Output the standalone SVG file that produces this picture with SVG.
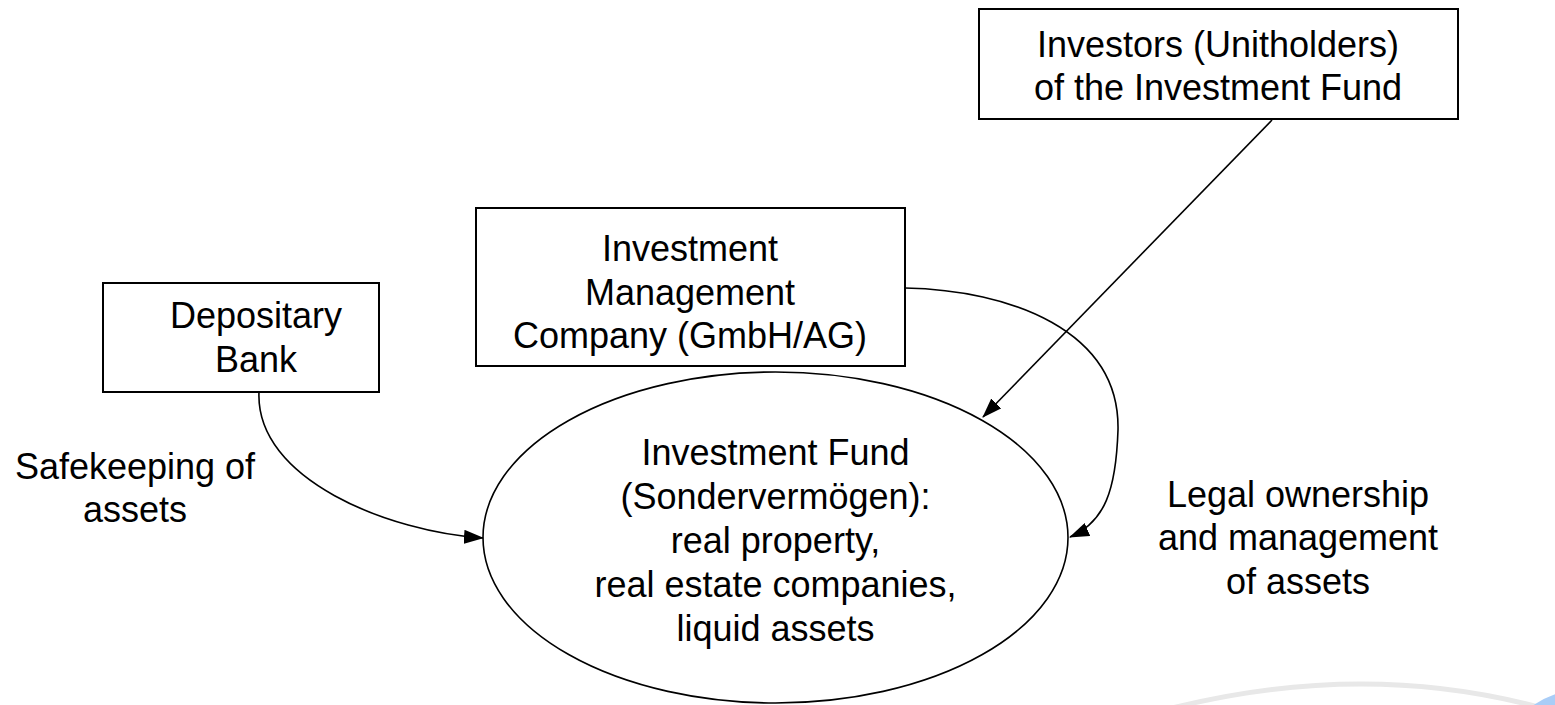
<svg xmlns="http://www.w3.org/2000/svg" width="1555" height="705" viewBox="0 0 1555 705">
  <style>
    .box { fill: #ffffff; stroke: #000000; stroke-width: 2; }
    .fund { fill: #ffffff; stroke: #000000; stroke-width: 1.6; }
    .lbl { font-family: "Liberation Sans", Arial, sans-serif; font-size: 36px; fill: #000000; text-anchor: middle; }
    .edge { fill: none; stroke: #000000; stroke-width: 1.6; marker-end: url(#arrow); }
  </style>
  <defs>
    <marker id="arrow" viewBox="0 0 20 14" refX="19" refY="7" markerWidth="20" markerHeight="14" markerUnits="userSpaceOnUse" orient="auto">
      <path d="M0,0 L20,7 L0,14 Z" fill="#000000"/>
    </marker>
  </defs>

  <rect width="1555" height="705" fill="#ffffff"/>

  <!-- slide template swoosh, bottom right -->
  <g id="decoration">
    <path d="M1172,708 Q1365,660 1542,708" fill="none" stroke="#e8e8e8" stroke-width="5"/>
    <path d="M1532,706 Q1544,698 1556,694 L1556,706 Z" fill="#a9cdf7"/>
  </g>

  <g id="investors">
    <rect class="box" x="979" y="9" width="479" height="110"/>
    <text class="lbl" x="1218" y="57">Investors (Unitholders)</text>
    <text class="lbl" x="1218" y="100">of the Investment Fund</text>
  </g>

  <g id="management">
    <rect class="box" x="476" y="208" width="429" height="158"/>
    <text class="lbl" x="690" y="261">Investment</text>
    <text class="lbl" x="690" y="305">Management</text>
    <text class="lbl" x="690" y="348">Company (GmbH/AG)</text>
  </g>

  <g id="depositary">
    <rect class="box" x="103" y="283" width="276" height="109"/>
    <text class="lbl" x="256" y="328">Depositary</text>
    <text class="lbl" x="256" y="372">Bank</text>
  </g>

  <g id="fund">
    <ellipse class="fund" cx="775.5" cy="537.5" rx="292.5" ry="165.5"/>
    <text class="lbl" x="775.5" y="465">Investment Fund</text>
    <text class="lbl" x="775.5" y="509">(Sondervermögen):</text>
    <text class="lbl" x="775.5" y="553">real property,</text>
    <text class="lbl" x="775.5" y="597">real estate companies,</text>
    <text class="lbl" x="775.5" y="641">liquid assets</text>
  </g>

  <g id="label-safekeeping">
    <text class="lbl" x="135" y="479">Safekeeping of</text>
    <text class="lbl" x="135" y="522">assets</text>
  </g>

  <g id="label-ownership">
    <text class="lbl" x="1298" y="507">Legal ownership</text>
    <text class="lbl" x="1298" y="550">and management</text>
    <text class="lbl" x="1298" y="594">of assets</text>
  </g>

  <g id="connectors">
    <path class="edge" d="M259,392 C255,480 390,532 483,538"/>
    <path class="edge" d="M905,288 C1010,290 1120,330 1118,430 C1116,490 1105,522 1070,537"/>
    <path class="edge" d="M1272,120 L983,417"/>
  </g>
</svg>
